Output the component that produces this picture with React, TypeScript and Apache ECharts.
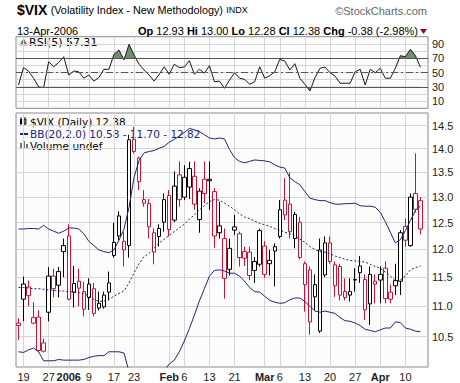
import React, { useEffect, useRef } from 'react';
import * as echarts from 'echarts';

const DATES = [
  '2005-12-16', '2005-12-19', '2005-12-20', '2005-12-21', '2005-12-22', '2005-12-23',
  '2005-12-27', '2005-12-28', '2005-12-29', '2005-12-30',
  '2006-01-03', '2006-01-04', '2006-01-05', '2006-01-06',
  '2006-01-09', '2006-01-10', '2006-01-11', '2006-01-12', '2006-01-13',
  '2006-01-17', '2006-01-18', '2006-01-19', '2006-01-20',
  '2006-01-23', '2006-01-24', '2006-01-25', '2006-01-26', '2006-01-27',
  '2006-01-30', '2006-01-31', '2006-02-01', '2006-02-02', '2006-02-03',
  '2006-02-06', '2006-02-07', '2006-02-08', '2006-02-09', '2006-02-10',
  '2006-02-13', '2006-02-14', '2006-02-15', '2006-02-16', '2006-02-17',
  '2006-02-21', '2006-02-22', '2006-02-23', '2006-02-24',
  '2006-02-27', '2006-02-28', '2006-03-01', '2006-03-02', '2006-03-03',
  '2006-03-06', '2006-03-07', '2006-03-08', '2006-03-09', '2006-03-10',
  '2006-03-13', '2006-03-14', '2006-03-15', '2006-03-16', '2006-03-17',
  '2006-03-20', '2006-03-21', '2006-03-22', '2006-03-23', '2006-03-24',
  '2006-03-27', '2006-03-28', '2006-03-29', '2006-03-30', '2006-03-31',
  '2006-04-03', '2006-04-04', '2006-04-05', '2006-04-06', '2006-04-07',
  '2006-04-10', '2006-04-11', '2006-04-12', '2006-04-13',
];

const OPEN = [
  10.72, 11.12, 11.33, 10.72, 10.82, 10.40, 10.90, 11.52, 11.36, 11.96,
  12.25, 11.24, 11.43, 11.25, 11.38, 11.30, 11.05, 10.99, 11.40, 12.13,
  12.63, 12.15, 12.07, 14.20, 13.80, 12.95, 12.87, 12.31, 12.24, 12.51,
  13.03, 12.55, 13.45, 13.40, 13.20, 13.42, 12.56, 13.36, 13.36, 13.11,
  12.44, 12.20, 11.64, 12.36, 12.29, 11.96, 11.95, 11.78, 11.73, 12.06,
  11.80, 12.05, 12.24, 12.94, 12.86, 12.20, 12.51, 11.74, 11.63, 11.16,
  10.59, 11.54, 12.12, 11.72, 11.69, 11.25, 11.25, 11.45, 11.70, 11.46,
  11.04, 11.43, 11.45, 11.66, 11.24, 11.35, 11.43, 12.43, 12.07, 13.07,
  12.93,
];
const HIGH = [
  10.80, 11.51, 11.44, 11.07, 10.93, 10.47, 11.68, 11.65, 11.68, 12.20,
  12.47, 11.70, 11.65, 11.42, 11.48, 11.40, 11.25, 11.25, 11.60, 12.50,
  12.72, 12.32, 14.30, 14.47, 13.83, 13.14, 12.96, 12.39, 12.47, 13.07,
  13.14, 13.52, 13.73, 13.65, 13.72, 13.73, 13.18, 13.73, 13.73, 13.18,
  12.91, 12.39, 12.20, 12.65, 12.33, 12.05, 12.05, 11.86, 12.39, 12.15,
  11.99, 12.11, 12.94, 13.38, 13.50, 12.71, 12.61, 11.78, 11.69, 11.55,
  12.20, 12.24, 12.24, 11.78, 11.74, 11.48, 11.48, 11.66, 11.88, 11.55,
  11.69, 11.55, 11.69, 11.78, 11.37, 11.74, 12.36, 12.58, 13.07, 13.90,
  13.00,
];
const LOW = [
  10.45, 10.75, 11.00, 10.70, 10.26, 10.25, 10.75, 11.15, 11.15, 11.50,
  11.10, 10.98, 11.00, 10.83, 10.94, 10.83, 10.93, 10.96, 11.10, 11.85,
  12.17, 11.69, 11.85, 13.90, 13.14, 12.81, 12.20, 11.73, 12.05, 12.33,
  12.24, 12.51, 12.81, 12.94, 12.96, 12.75, 12.31, 12.88, 12.75, 12.03,
  12.20, 11.13, 11.53, 12.27, 11.69, 11.70, 11.45, 11.40, 11.69, 11.49,
  11.53, 11.34, 12.20, 12.55, 12.20, 12.02, 11.82, 10.91, 10.53, 10.94,
  10.56, 11.50, 11.74, 11.16, 11.10, 11.10, 11.08, 11.25, 11.40, 10.77,
  10.69, 11.05, 11.05, 11.05, 11.05, 11.19, 11.19, 12.05, 12.05, 12.70,
  12.28,
];
const CLOSE = [
  10.68, 11.38, 11.18, 10.81, 10.28, 10.27, 11.52, 11.30, 11.60, 12.07,
  11.12, 11.39, 11.31, 10.95, 11.15, 10.88, 10.97, 11.19, 11.24, 11.89,
  12.25, 11.99, 14.19, 13.94, 13.31, 12.88, 12.42, 11.95, 12.39, 12.95,
  12.37, 13.22, 12.95, 13.00, 13.58, 12.86, 13.12, 13.07, 13.33, 12.25,
  12.31, 11.48, 12.02, 12.42, 11.85, 11.84, 11.53, 11.62, 12.35, 11.55,
  11.74, 11.97, 12.75, 12.65, 12.33, 12.66, 11.85, 11.37, 10.74, 11.37,
  11.99, 12.12, 11.78, 11.35, 11.19, 11.15, 11.19, 11.46, 11.58, 10.94,
  11.55, 11.38, 11.55, 11.13, 11.12, 11.44, 12.31, 12.17, 13.00, 12.76,
  12.38,
];
const FIRST_PREV_CLOSE = 10.76;

const BB_UPPER = [
  12.38, 12.38, 12.39, 12.39, 12.38, 12.45, 12.38, 12.34, 12.30, 12.34,
  12.40, 12.40, 12.38, 12.29, 12.15, 12.07, 11.99, 11.96, 11.94, 11.99,
  12.17, 12.38, 12.80, 13.40, 13.75, 13.91, 13.94, 13.96, 14.01, 14.05,
  14.14, 14.20, 14.27, 14.35, 14.44, 14.41, 14.37, 14.30, 14.23, 14.21,
  14.23, 14.21, 13.98, 13.81, 13.73, 13.70, 13.73, 13.76, 13.75, 13.74,
  13.72, 13.66, 13.61, 13.59, 13.39, 13.31, 13.25, 13.11, 12.98, 12.95,
  12.93, 12.93, 12.89, 12.86, 12.86, 12.87, 12.87, 12.88, 12.83, 12.82,
  12.82, 12.80, 12.70, 12.52, 12.32, 12.12, 12.18, 12.35, 12.54, 12.74,
  12.82,
];
const BB_MIDDLE = [
  11.32, 11.32, 11.31, 11.30, 11.30, 11.29, 11.28, 11.27, 11.26, 11.26,
  11.25, 11.24, 11.23, 11.22, 11.17, 11.12, 11.08, 11.09, 11.12, 11.17,
  11.22, 11.26, 11.40, 11.58, 11.74, 11.87, 11.93, 12.02, 12.12, 12.19,
  12.26, 12.33, 12.40, 12.47, 12.57, 12.65, 12.75, 12.83, 12.91, 12.95,
  12.94, 12.88, 12.82, 12.75, 12.67, 12.61, 12.58, 12.53, 12.49, 12.46,
  12.43, 12.39, 12.36, 12.32, 12.29, 12.25, 12.19, 12.13, 12.05, 12.00,
  11.96, 11.95, 11.92, 11.88, 11.85, 11.82, 11.80, 11.79, 11.78, 11.77,
  11.73, 11.69, 11.66, 11.59, 11.52, 11.44, 11.45, 11.52, 11.63, 11.67,
  11.70,
];
const BB_LOWER = [
  10.26, 10.25, 10.29, 10.32, 10.26, 10.12, 10.12, 10.12, 10.14, 10.13,
  10.13, 10.13, 10.13, 10.14, 10.17, 10.19, 10.20, 10.20, 10.26, 10.26,
  10.26, 10.24, 9.95, 9.75, 9.70, 9.75, 9.80, 9.85, 9.90, 9.96,
  10.07, 10.13, 10.26, 10.43, 10.63, 10.85, 11.09, 11.30, 11.52, 11.62,
  11.63, 11.61, 11.57, 11.57, 11.52, 11.43, 11.32, 11.25, 11.24, 11.17,
  11.10, 11.07, 11.05, 11.06, 11.11, 11.14, 11.14, 11.08, 11.00, 10.92,
  10.90, 10.92, 10.90, 10.88, 10.81, 10.76, 10.75, 10.72, 10.68, 10.62,
  10.60, 10.58, 10.61, 10.64, 10.64, 10.74, 10.73, 10.64, 10.62, 10.59,
  10.58,
];
const RSI = [
  32.5, 57.0, 52.0, 42.0, 30.0, 29.0, 65.0, 58.0, 64.0, 72.0,
  46.5, 52.0, 51.0, 42.0, 46.5, 38.0, 43.0, 54.5, 54.5, 75.4,
  81.4, 67.5, 89.4, 74.4, 61.5, 53.5, 46.5, 38.0, 47.5, 58.0,
  47.5, 61.5, 56.7, 57.7, 66.5, 47.5, 54.5, 49.0, 59.5, 37.0,
  38.0, 28.0, 39.5, 49.7, 42.0, 40.5, 33.5, 37.0, 58.0, 42.0,
  45.5, 51.0, 68.4, 66.0, 53.5, 62.3, 42.0, 33.5, 24.2, 42.7,
  55.9, 57.7, 49.7, 45.0, 35.0, 35.0, 35.0, 51.0, 54.5, 32.5,
  54.5, 49.7, 55.9, 42.0, 42.0, 55.9, 73.5, 72.0, 82.4, 73.5,
  57.31,
];

const PRICE_TICKS = [10.5, 11, 11.5, 12, 12.5, 13, 13.5, 14, 14.5];
const RSI_TICKS = [10, 30, 50, 70, 90];
const RSI_GRIDLINES = [10, 20, 30, 40, 50, 60, 70, 80, 90];
const X_LABELS: Record<string, string> = {
  '2005-12-19': '19', '2005-12-27': '27', '2006-01-03': '{b|2006}', '2006-01-09': '9',
  '2006-01-17': '17', '2006-01-23': '23', '2006-02-01': '{b|Feb}', '2006-02-06': '6',
  '2006-02-13': '13', '2006-02-21': '21', '2006-03-01': '{b|Mar}', '2006-03-06': '6',
  '2006-03-13': '13', '2006-03-20': '20', '2006-03-27': '27', '2006-04-03': '{b|Apr}',
  '2006-04-10': '10',
};
const PRICE_MIN = 10.024;
const PRICE_MAX = 14.785;

const RED = '#cc1133';
const NAVY = '#23237a';
const GRID_C = '#d6d6d6';
const FONT = '"Liberation Sans", Arial, sans-serif';
const VFONT = '"DejaVu Sans", Verdana, sans-serif';

export default function App() {
  const ref = useRef<HTMLDivElement>(null);
  useEffect(() => {
    if (!ref.current) return;
    const chart = echarts.init(ref.current, undefined, { renderer: 'svg' });
    const cats = [...DATES, ''];
    const last = CLOSE.length - 1;
    const chg = CLOSE[last] - CLOSE[last - 1];
    const pct = (chg / CLOSE[last - 1]) * 100;
    const isTick = (_i: number, v: string) => Object.prototype.hasOwnProperty.call(X_LABELS, v);

    const candleData = DATES.map((d, i) => {
      const prev = i === 0 ? FIRST_PREV_CLOSE : CLOSE[i - 1];
      const col = CLOSE[i] >= prev ? '#000000' : RED;
      return {
        value: [Math.log(OPEN[i]), Math.log(CLOSE[i]), Math.log(LOW[i]), Math.log(HIGH[i])],
        itemStyle: { color: '#ffffff', color0: col, borderColor: col, borderColor0: col, borderWidth: 1 },
      };
    });

    const rsiTop = 36.7;
    const rsiH = 71.6;
    const yOf = (v: number) => rsiTop + rsiH * (1 - v / 100);

    const xBase = (gridIndex: number, labels: boolean) => ({
      type: 'category', gridIndex, data: cats, boundaryGap: true,
      axisLine: { show: false }, axisTick: { show: false },
      axisLabel: labels ? {
        show: true, interval: isTick, formatter: (v: string) => X_LABELS[v] || '',
        fontSize: 11, fontFamily: FONT, color: '#222', margin: 4,
        rich: { b: { fontWeight: 'bold', fontSize: 11, fontFamily: FONT, color: '#222' } },
      } : { show: false },
      splitLine: gridIndex === 0 || gridIndex === 3 ? { show: true, interval: isTick, alignWithLabel: true, lineStyle: { color: GRID_C, width: 1 } } : { show: false },
    });

    const fillSeries = (axis: number, origin: string) => ({
      type: 'line', xAxisIndex: axis, yAxisIndex: axis, data: RSI, symbol: 'none', silent: true,
      lineStyle: { width: 0, opacity: 0 }, areaStyle: { color: '#6f8f6f', opacity: 1, origin }, z: 2,
    });

    const legendText = (y: number, text: string, fill: string) => ({
      type: 'text', x: 30, y,
      style: { text, font: `10.5px ${VFONT}`, fill, verticalAlign: 'middle', textVerticalAlign: 'middle' },
    });

    const option: any = {
      animation: false,
      backgroundColor: '#ffffff',
      grid: [
        { left: 16, top: rsiTop, width: 412, height: rsiH, show: true, backgroundColor: '#fcfcfc', borderColor: '#8a8a8a', borderWidth: 1 },
        { left: 16, top: rsiTop, width: 412, height: yOf(70) - rsiTop },
        { left: 16, top: yOf(30), width: 412, height: rsiTop + rsiH - yOf(30) },
        { left: 16, top: 113, width: 412, height: 254, show: true, backgroundColor: '#fcfcfc', borderColor: '#8a8a8a', borderWidth: 1 },
      ],
      xAxis: [xBase(0, false), xBase(1, false), xBase(2, false), xBase(3, true)],
      yAxis: [
        {
          type: 'value', gridIndex: 0, min: 0, max: 100, position: 'right',
          axisLine: { show: false }, axisTick: { show: false, customValues: RSI_GRIDLINES },
          axisLabel: { customValues: RSI_TICKS, fontSize: 11, fontFamily: FONT, color: '#222', margin: 4 },
          splitLine: { show: true, lineStyle: { color: GRID_C, width: 1 } },
        },
        { type: 'value', gridIndex: 1, min: 70, max: 100, show: false },
        { type: 'value', gridIndex: 2, min: 0, max: 30, show: false },
        {
          type: 'value', gridIndex: 3, min: Math.log(PRICE_MIN), max: Math.log(PRICE_MAX), position: 'right',
          axisLine: { show: false }, axisTick: { show: false, customValues: PRICE_TICKS.map(Math.log) },
          axisLabel: { customValues: PRICE_TICKS.map(Math.log), formatter: (v: number) => Math.exp(v).toFixed(1), fontSize: 11, fontFamily: FONT, color: '#222', margin: 4 },
          splitLine: { show: true, lineStyle: { color: GRID_C, width: 1 } },
        },
      ],
      series: [
        fillSeries(1, 'start'),
        fillSeries(2, 'end'),
        {
          type: 'line', xAxisIndex: 0, yAxisIndex: 0, data: RSI, symbol: 'none', silent: true, z: 4,
          lineStyle: { color: '#1a1a1a', width: 1 },
          markLine: {
            silent: true, symbol: 'none', label: { show: false }, animation: false,
            lineStyle: { color: '#555555', width: 1, type: 'solid' },
            data: [
              { yAxis: 30 }, { yAxis: 70 },
              { yAxis: 50, lineStyle: { color: '#555555', width: 1, type: [7, 3, 2, 3] } },
            ],
          },
        },
        {
          type: 'candlestick', xAxisIndex: 3, yAxisIndex: 3, data: candleData, barWidth: 4, z: 3,
          itemStyle: { borderWidth: 1 },
        },
        {
          type: 'line', xAxisIndex: 3, yAxisIndex: 3, data: BB_UPPER.map(Math.log), symbol: 'none', silent: true, z: 4,
          lineStyle: { color: NAVY, width: 1 },
        },
        {
          type: 'line', xAxisIndex: 3, yAxisIndex: 3, data: BB_MIDDLE.map(Math.log), symbol: 'none', silent: true, z: 4,
          lineStyle: { color: NAVY, width: 1, type: [2, 2] },
        },
        {
          type: 'line', xAxisIndex: 3, yAxisIndex: 3, data: BB_LOWER.map(Math.log), symbol: 'none', silent: true, z: 4,
          lineStyle: { color: NAVY, width: 1 },
        },
      ],
      graphic: [
        {
          type: 'text', x: 17, y: 10,
          style: {
            text: '{a|$VIX} {b|(Volatility Index - New Methodology)} {c|INDX}',
            verticalAlign: 'middle', textVerticalAlign: 'middle',
            rich: {
              a: { font: `bold 14px ${FONT}`, fill: '#000' },
              b: { font: `10.8px ${FONT}`, fill: '#000' },
              c: { font: `9px ${FONT}`, fill: '#000' },
            },
          },
        },
        { type: 'text', x: 427, y: 10.5, style: { text: '\u00a9StockCharts.com', font: `11px ${FONT}`, fill: '#666', align: 'right', textAlign: 'right', verticalAlign: 'middle', textVerticalAlign: 'middle' } },
        { type: 'text', x: 17, y: 31, style: { text: `${DATES[last].slice(8)}-Apr-${DATES[last].slice(0, 4)}`, font: `11px ${FONT}`, fill: '#000', verticalAlign: 'middle', textVerticalAlign: 'middle' } },
        {
          type: 'text', x: 418, y: 31,
          style: {
            text: `{b|Op} ${OPEN[last].toFixed(2)} {b|Hi} ${HIGH[last].toFixed(2)} {b|Lo} ${LOW[last].toFixed(2)} {b|Cl} ${CLOSE[last].toFixed(2)} {b|Chg} ${chg.toFixed(2)} (${pct.toFixed(2)}%)`,
            font: `11px ${FONT}`, fill: '#000', align: 'right', textAlign: 'right', verticalAlign: 'middle', textVerticalAlign: 'middle',
            rich: { b: { font: `bold 11px ${FONT}`, fill: '#000' } },
          },
        },
        { type: 'polygon', shape: { points: [[420, 29], [427, 29], [423.5, 34]] }, style: { fill: '#8a0a2a' } },
        // RSI legend
        { type: 'polygon', shape: { points: [[20, 45], [23.5, 39], [27, 45]] }, style: { fill: '#6f8f6f', stroke: '#333', lineWidth: 0.6 } },
        { type: 'text', x: 29, y: 42, style: { text: `RSI(5) ${RSI[last].toFixed(2)}`, font: `11px ${VFONT}`, fill: '#000', verticalAlign: 'middle', textVerticalAlign: 'middle' } },
        // price legend icons
        { type: 'rect', shape: { x: 20, y: 119, width: 2, height: 5 }, style: { fill: '#000' } },
        { type: 'rect', shape: { x: 24, y: 119, width: 2, height: 5 }, style: { fill: '#fff', stroke: '#000', lineWidth: 0.8 } },
        { type: 'line', shape: { x1: 21, y1: 117, x2: 21, y2: 126 }, style: { stroke: '#000', lineWidth: 0.8 } },
        { type: 'line', shape: { x1: 25, y1: 117, x2: 25, y2: 126 }, style: { stroke: '#000', lineWidth: 0.8 } },
        { type: 'line', shape: { x1: 20, y1: 134, x2: 28, y2: 134 }, style: { stroke: NAVY, lineWidth: 2 } },
        { type: 'rect', shape: { x: 20, y: 143, width: 2, height: 6 }, style: { fill: '#777' } },
        { type: 'rect', shape: { x: 23, y: 141, width: 2, height: 8 }, style: { fill: '#777' } },
        { type: 'rect', shape: { x: 26, y: 144, width: 2, height: 5 }, style: { fill: '#777' } },
        legendText(121.7, `$VIX (Daily) ${CLOSE[last].toFixed(2)}`, '#000'),
        legendText(134, `BB(20,2.0) ${BB_LOWER[last].toFixed(2)} - ${BB_MIDDLE[last].toFixed(2)} - ${BB_UPPER[last].toFixed(2)}`, NAVY),
        legendText(146.3, 'Volume undef', '#000'),
      ],
    };
    chart.setOption(option);
    return () => chart.dispose();
  }, []);
  return <div ref={ref} style={{ position: 'fixed', left: 0, top: 0, width: 460, height: 383 }} />;
}
